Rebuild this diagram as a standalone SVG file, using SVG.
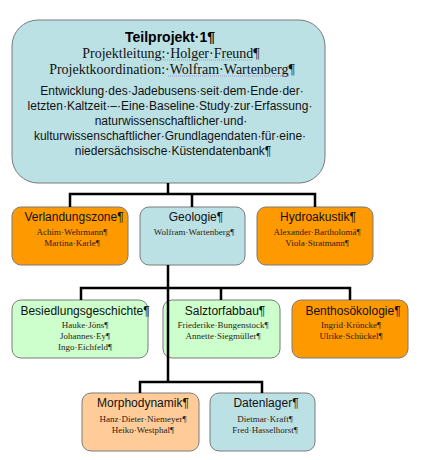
<svg xmlns="http://www.w3.org/2000/svg" width="423" height="460" viewBox="0 0 423 460">
<style>
.box{stroke:#7a7a7a;stroke-width:1}
.blue{fill:#bbe1e5}
.orange{fill:#ff9900}
.green{fill:#ccffcc}
.peach{fill:#ffcc99}
.h{font-family:"Liberation Sans",Arial,sans-serif;font-size:12px;fill:#111;text-anchor:middle}
.n{font-family:"Liberation Serif","Times New Roman",serif;font-size:9px;fill:#2a1e14;text-anchor:middle}
.t{font-family:"Liberation Sans",Arial,sans-serif;font-size:14px;font-weight:bold;fill:#000;text-anchor:middle}
.s{font-family:"Liberation Serif","Times New Roman",serif;font-size:14px;fill:#111;text-anchor:middle}
.d{font-family:"Liberation Sans",Arial,sans-serif;font-size:12px;fill:#111;text-anchor:middle}
.c{fill:none;stroke:#000;stroke-width:2.5}
.u{stroke:#9a7fc4;stroke-width:0.8;stroke-dasharray:1 1}
</style>
<rect width="423" height="460" fill="#fff"/>
<g id="teilprojekt1">
<rect class="box blue" x="12" y="20" width="313" height="163" rx="26"/>
<text class="t" x="170" y="42">Teilprojekt·1¶</text>
<text class="s" x="171" y="58">Projektleitung:·Holger·Freund¶</text>
<text class="s" x="172" y="74">Projektkoordination:·Wolfram·Wartenberg¶</text>
<line class="u" x1="143" y1="60" x2="252" y2="60"/>
<line class="u" x1="168" y1="76" x2="290" y2="76"/>
<text class="d" x="172" y="95">Entwicklung·des·Jadebusens·seit·dem·Ende·der·</text>
<text class="d" x="170" y="110">letzten·Kaltzeit·–·Eine·Baseline·Study·zur·Erfassung·</text>
<text class="d" x="171" y="125">naturwissenschaftlicher·und·</text>
<text class="d" x="170" y="140">kulturwissenschaftlicher·Grundlagendaten·für·eine·</text>
<text class="d" x="173" y="155">niedersächsische·Küstendatenbank¶</text>
</g>
<g id="verlandungszone">
<rect class="box orange" x="12" y="207" width="116" height="58" rx="9"/>
<text class="h" x="74" y="221">Verlandungszone¶</text>
<text class="n" x="72" y="235">Achim·Wehrmann¶</text>
<text class="n" x="72" y="246">Martina·Karle¶</text>
</g>
<g id="geologie">
<rect class="box blue" x="140" y="207" width="105" height="58" rx="9"/>
<text class="h" x="196" y="221">Geologie¶</text>
<text class="n" x="194" y="235">Wolfram·Wartenberg¶</text>
</g>
<g id="hydroakustik">
<rect class="box orange" x="257" y="207" width="116" height="58" rx="9"/>
<text class="h" x="318" y="221">Hydroakustik¶</text>
<text class="n" x="317" y="235">Alexander·Bartholomä¶</text>
<text class="n" x="317" y="246">Viola·Stratmann¶</text>
</g>
<g id="besiedlungsgeschichte">
<rect class="box green" x="12" y="300" width="136" height="58" rx="9"/>
<text class="h" x="85" y="315">Besiedlungsgeschichte¶</text>
<text class="n" x="85" y="328">Hauke·Jöns¶</text>
<text class="n" x="85" y="339">Johannes·Ey¶</text>
<text class="n" x="85" y="350">Ingo·Eichfeld¶</text>
</g>
<g id="salztorfabbau">
<rect class="box green" x="163" y="300" width="117" height="58" rx="9"/>
<text class="h" x="225" y="315">Salztorfabbau¶</text>
<text class="n" x="223" y="328">Friederike·Bungenstock¶</text>
<text class="n" x="223" y="339">Annette·Siegmüller¶</text>
</g>
<g id="benthosoekologie">
<rect class="box orange" x="292" y="300" width="116" height="58" rx="9"/>
<text class="h" x="353" y="315">Benthosökologie¶</text>
<text class="n" x="351" y="328">Ingrid·Kröncke¶</text>
<text class="n" x="351" y="339">Ulrike·Schückel¶</text>
</g>
<g id="morphodynamik">
<rect class="box peach" x="82" y="393" width="117" height="58" rx="9"/>
<text class="h" x="143" y="407">Morphodynamik¶</text>
<text class="n" x="143" y="422">Hanz·Dieter·Niemeyer¶</text>
<text class="n" x="143" y="433">Heiko·Westphal¶</text>
</g>
<g id="datenlager">
<rect class="box blue" x="210" y="393" width="105" height="58" rx="9"/>
<text class="h" x="266" y="407">Datenlager¶</text>
<text class="n" x="265" y="422">Dietmar·Kraft¶</text>
<text class="n" x="265" y="433">Fred·Hasselhorst¶</text>
</g>
<g id="connectors">
<path class="c" d="M168 183V194M70 207V194H315V207M192 194V207"/>
<path class="c" d="M168 265V382M81 300V288H350V300M221 288V300"/>
<path class="c" d="M140 393V382H262V393"/>
</g>
</svg>
